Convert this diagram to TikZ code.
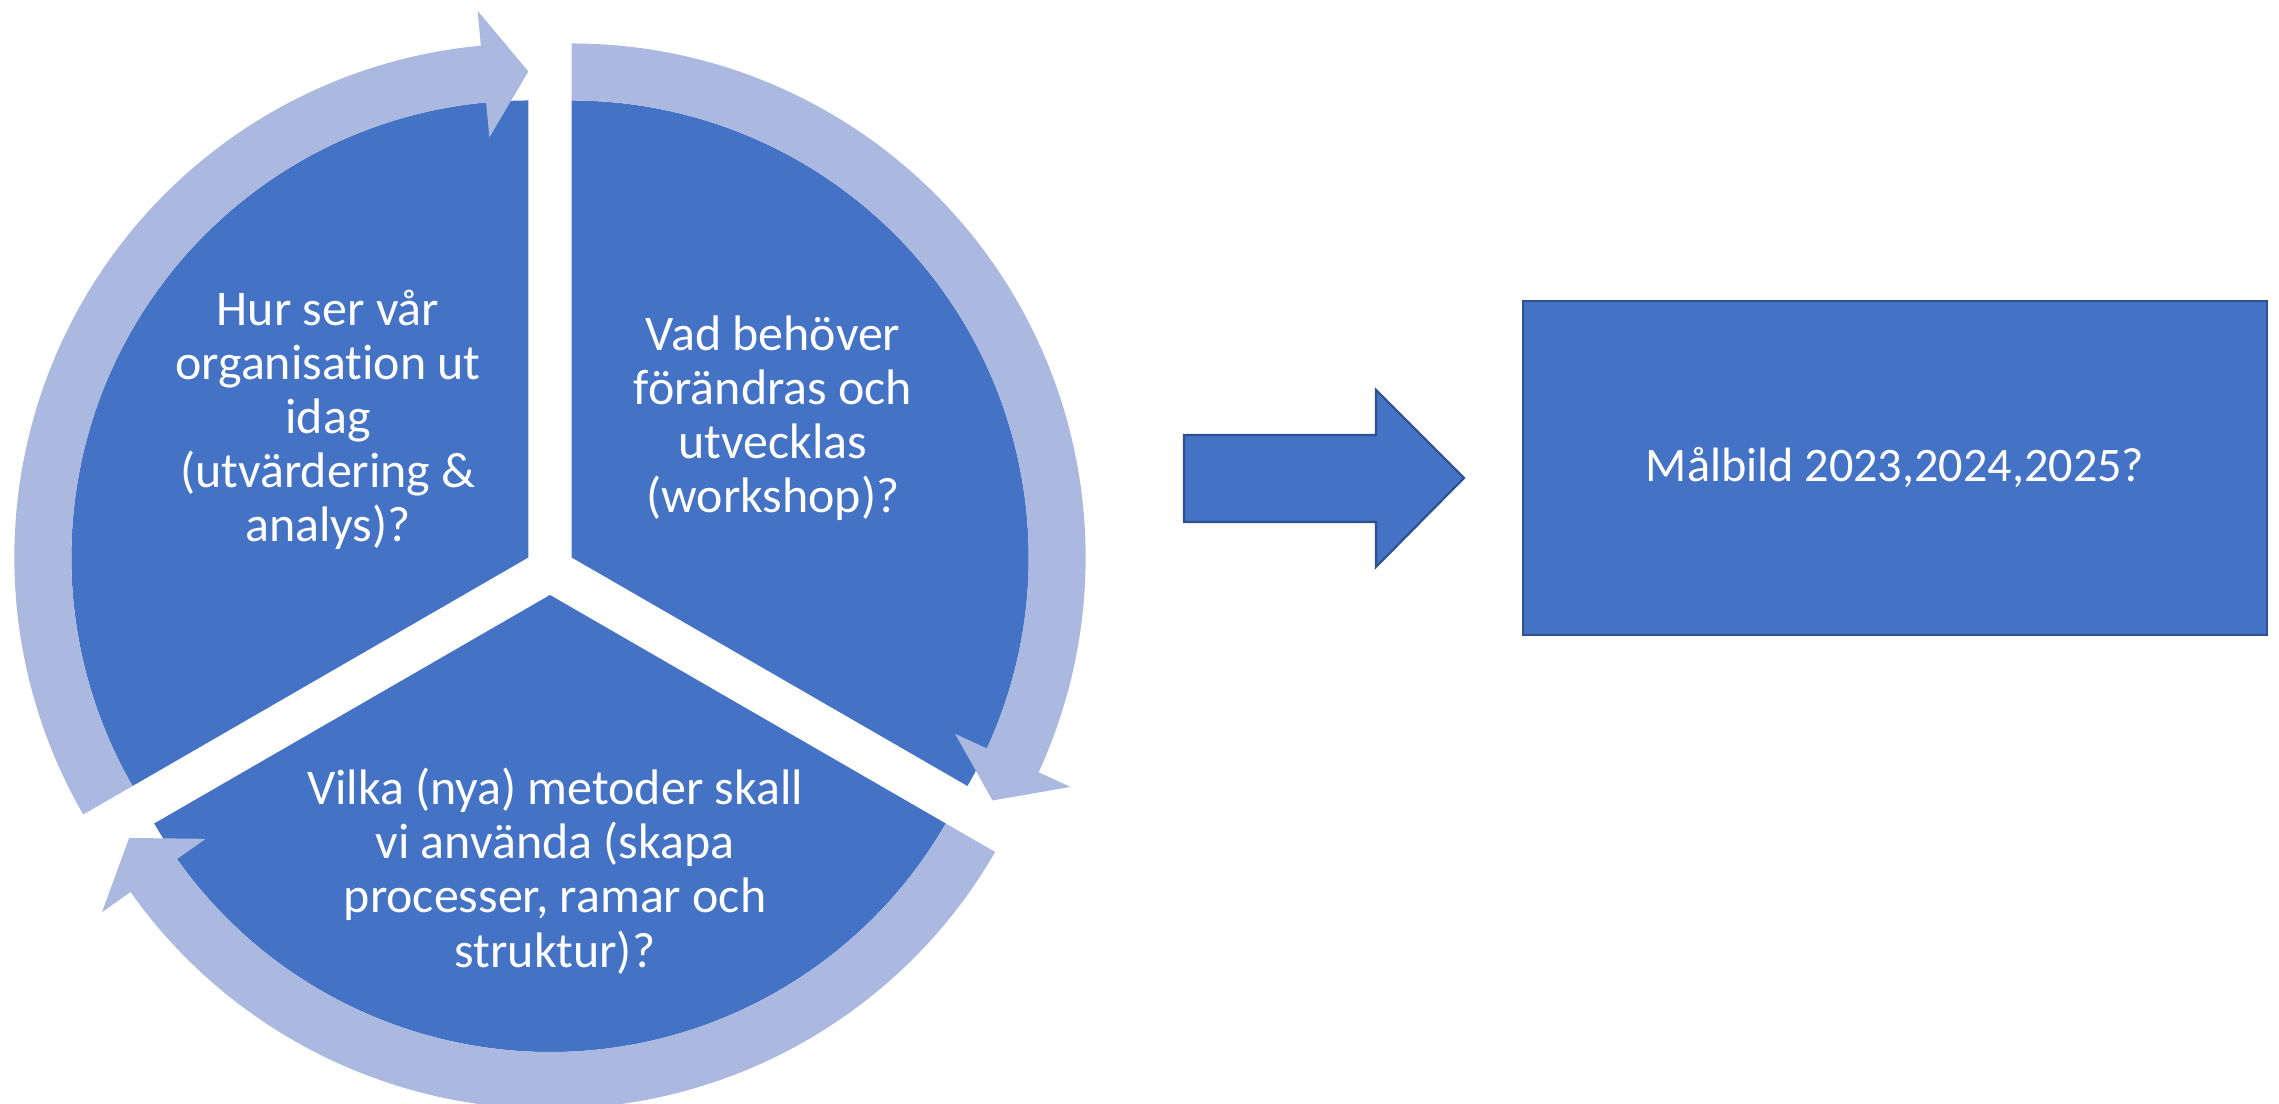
\documentclass[tikz,border=0pt]{standalone}
\usepackage{fontspec}
\setmainfont[Ligatures=NoCommon]{Carlito}
\usetikzlibrary{calc}
\definecolor{segdark}{RGB}{68,114,196}
\definecolor{seglight}{RGB}{171,185,224}
\definecolor{segline}{RGB}{47,82,143}
\begin{document}
\begin{tikzpicture}[x=0.01cm,y=0.01cm,
  wedge/.style={fill=segdark},
  ring/.style={fill=seglight},
  lbl/.style={text=white,align=center,inner sep=0pt,font=\fontsize{14.2}{15.4}\selectfont},
  bigarrow/.style={fill=segdark,draw=segline,line width=0.6pt},
  goalbox/.style={fill=segdark,draw=segline,line width=0.6pt,text=white,
    minimum width=7.44cm,minimum height=3.34cm,inner sep=0pt,
    font=\fontsize{13.7}{16}\selectfont}
]
\useasboundingbox (0,0) rectangle (2279,1104);
\clip (0,0) rectangle (2279,1104);
\coordinate (C) at (550,534);
% pie segments (exploded)
\foreach \th in {150,30,270}{
  \pgfmathsetmacro{\a}{\th-60}
  \pgfmathsetmacro{\b}{\th+60}
  \begin{scope}[shift={($(C)+(\th:25)$)}]
    \fill[wedge] (0,0) -- (\a:457) arc[start angle=\a, end angle=\b, radius=457] -- cycle;
  \end{scope}
}
% circular arrows
\foreach \th in {150,30,270}{
  \pgfmathsetmacro{\s}{\th+60}
  \pgfmathsetmacro{\e}{\th-60}
  \pgfmathsetmacro{\bk}{\th-60+5.3}
  \begin{scope}[shift={($(C)+(\th:25)$)}]
    \fill[ring] (\s:514) arc[start angle=\s, end angle=\bk, radius=514]
      -- (\bk:549) -- (\e:486) -- (\bk:422) -- (\bk:457)
      arc[start angle=\bk, end angle=\s, radius=457] -- cycle;
  \end{scope}
}
\node[lbl] (t1) at (328,684) {Hur ser vår\\organisation ut\\idag\\(utvärdering \&\\analys)?};
\node[lbl] (t2) at (773,686) {Vad behöver\\förändras och\\utvecklas\\(workshop)?};
\node[lbl] (t3) at (555,233) {Vilka (nya) metoder skall\\vi använda (skapa\\processer, ramar och\\struktur)?};
% block arrow
\draw[bigarrow] (1184,669) -- (1376,669) -- (1376,714) -- (1464,626)
  -- (1376,537) -- (1376,582) -- (1184,582) -- cycle;
\node[goalbox] (goal) at (1895,636) {Målbild 2023,2024,2025?};
\end{tikzpicture}
\end{document}
